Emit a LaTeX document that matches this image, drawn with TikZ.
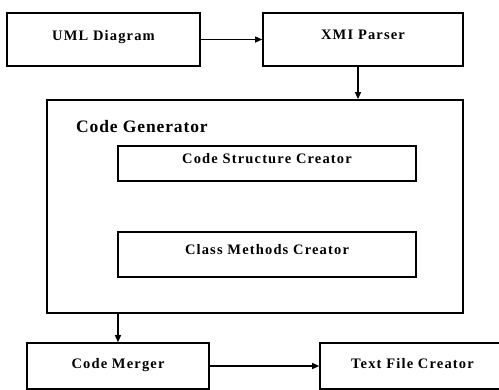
\documentclass[tikz,border=0pt]{standalone}
\usepackage{fontspec}
\setmainfont{Liberation Serif}
\usetikzlibrary{arrows.meta, positioning}

\begin{document}
\begin{tikzpicture}[x=1pt, y=-1pt,
				>={Triangle[length=7pt, width=6pt]},
				block/.style={draw, line width=1.6pt, inner sep=0pt,
					font=\bfseries\fontsize{14.5}{16}\selectfont\addfontfeature{LetterSpace=8}},
				flow/.style={->, line width=1.3pt}]
				\clip (0,0) rectangle (499,390);
				\fill[white] (0,0) rectangle (499,390);
				\node at (103.5,39.5) (uml) [block, minimum width=193pt, minimum height=53pt, text depth=9pt] {UML Diagram};
				\node at (363,39.5) (xmi) [block, minimum width=200pt, minimum height=53pt, text depth=9pt] {XMI Parser};
				\node at (255,206.5) (gen) [block, line width=1.8pt, minimum width=416pt, minimum height=213pt] {};
				\node at (76,127) (title) [anchor=west, inner sep=0pt,
					font=\bfseries\fontsize{17.5}{20}\selectfont\addfontfeature{LetterSpace=5}] {Code Generator};
				\node at (267,163.5) (struct) [block, minimum width=298pt, minimum height=35pt, text depth=10pt] {Code Structure Creator};
				\node at (267,254.5) (methods) [block, minimum width=298pt, minimum height=45pt, text depth=11pt] {Class Methods Creator};
				\node at (118,366) (merger) [block, minimum width=182pt, minimum height=46pt, text depth=6pt] {Code Merger};
				\node at (412.5,366) (textfile) [block, minimum width=185pt, minimum height=46pt, text depth=6pt] {Text File Creator};
				\draw[flow] (uml.east) -- (xmi.west);
				\draw[flow] ([xshift=-5pt]xmi.south) -- ([xshift=-5pt]xmi.south |- gen.north);
				\draw[flow] (gen.south -| merger.north) -- (merger.north);
				\draw[flow] (merger.east) -- (textfile.west);
			\end{tikzpicture}
\end{document}
